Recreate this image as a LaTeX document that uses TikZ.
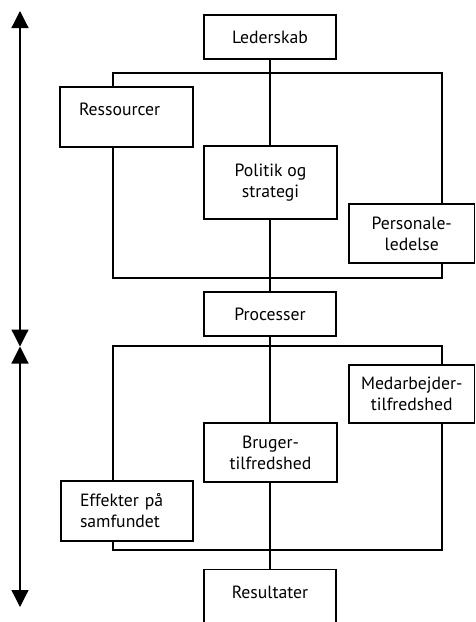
\documentclass[tikz,border=0pt]{standalone}
\usepackage{fontspec}
\setmainfont{PT Sans}
\usetikzlibrary{arrows.meta}
\tikzset{
  stroke/.style={line width=1.2pt, black},
  labelfont/.style={font=\fontsize{17.7}{21}\selectfont, text=black},
  box/.style={stroke, draw, fill=white, inner sep=0pt, align=center, labelfont},
  leftbox/.style={box, align=left, inner xsep=19pt},
  axis/.style={stroke, {Triangle[width=17pt,length=17pt]}-{Triangle[width=17pt,length=17pt]}},
}
\begin{document}
\begin{tikzpicture}[x=1pt,y=-1pt]
\path[use as bounding box] (0,0) rectangle (476,622);
\clip (0,0) rectangle (476,622);

% brackets joining the three boxes of each group
\draw[stroke] (113,73) rectangle (442,278);
\draw[stroke] (113,346) rectangle (442,550);

% spine coordinates
\coordinate (top) at (20,11);
\coordinate (mid) at (20,346.5);
\coordinate (bot) at (20,607);

% upper group
\node[box, minimum width=132pt, minimum height=44pt] (lead) at (270,37) {Lederskab};
\node[box, minimum width=132pt, minimum height=44pt] (proc) at (270,314) {Processer};
\draw[stroke] (lead.south) -- (proc.north);
\node[leftbox, text width=95pt, minimum height=60pt, text depth=15pt] (res) at (126.5,117) {Ressourcer};
\node[box, minimum width=133pt, minimum height=73pt] (pol) at (270.5,182.5) {Politik og\\strategi};
\node[box, minimum width=125.5pt, minimum height=59pt] (pers) at (411.75,233.5) {Personale-\\ledelse};

% lower group
\node[box, minimum width=132pt, minimum height=74pt, anchor=north] (resu) at (270,569) {};
\draw[stroke] (proc.south) -- (resu.north);
\node[box, minimum width=125.5pt, minimum height=58pt] (med) at (411.75,394) {Medarbejder-\\tilfredshed};
\node[box, minimum width=133pt, minimum height=59pt] (brug) at (270.5,452.5) {Bruger-\\tilfredshed};
\node[leftbox, text width=94pt, minimum height=60pt] (eff) at (127,511) {Effekter på\\samfundet};
\node[labelfont, anchor=base] (resu-text) at (270,598) {Resultater};

% double-headed arrows on the left
\draw[axis] (top) -- (mid);
\draw[axis] (mid) -- (bot);
\end{tikzpicture}
\end{document}
